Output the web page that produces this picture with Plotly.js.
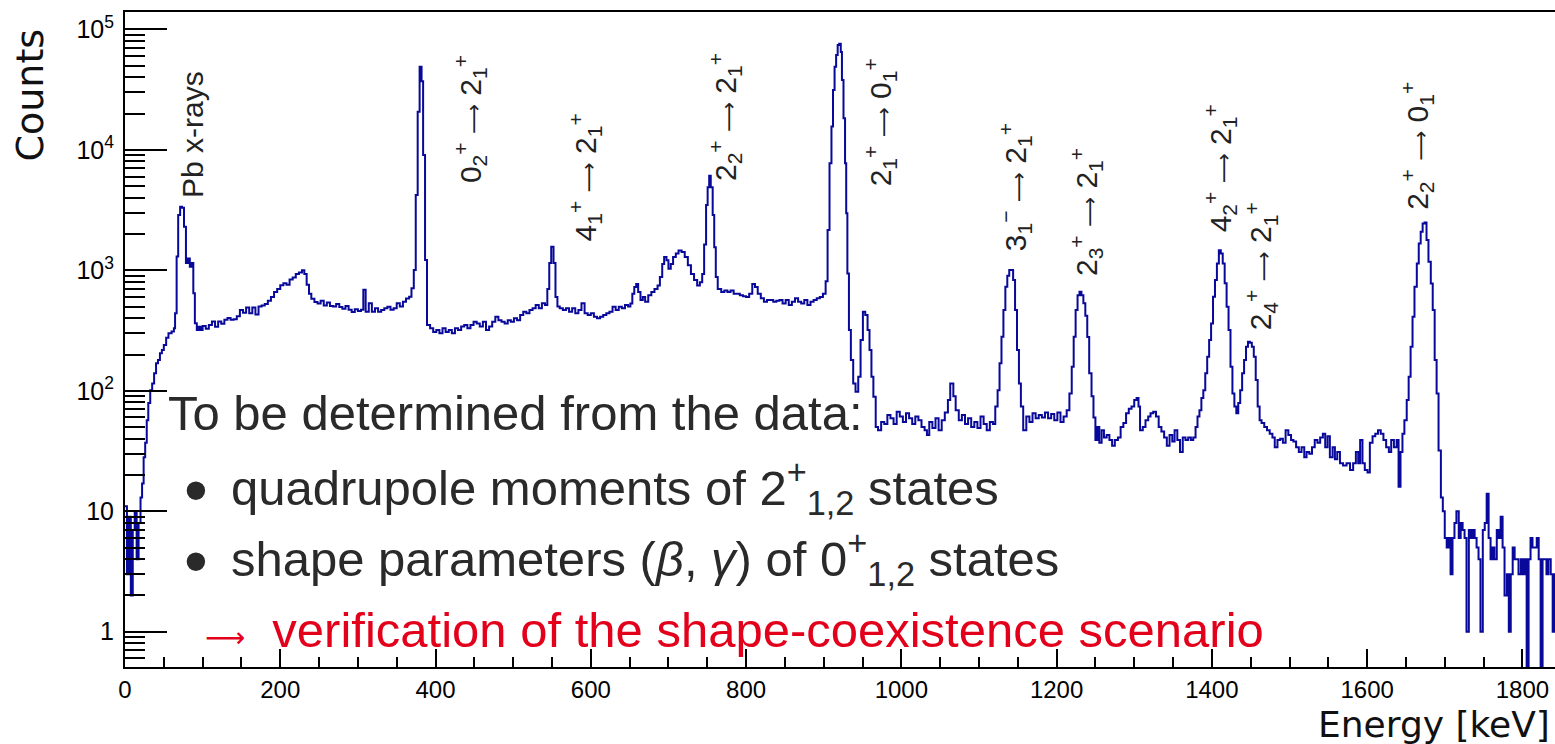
<!DOCTYPE html>
<html>
<head>
<meta charset="utf-8">
<script src="https://cdn.plot.ly/plotly-3.0.1.min.js"></script>
<style>
  html, body { margin: 0; padding: 0; background: #ffffff; }
  #chart { width: 1555px; height: 744px; }
</style>
</head>
<body>
<div id="chart"></div>
<script>
// ---------------- data ----------------
// left edge of each histogram step [keV]
const energyKeV = [
  0, 2.5, 5, 7.5, 10, 12.5, 15, 17.5, 20, 22, 24, 26, 28, 30, 32.5, 35, 37.5, 40, 42.5, 45, 47.5,
  50, 53, 56, 60, 63, 64.5, 66.5, 68.5, 71, 73.5, 76, 78.5, 81, 83.5, 86, 88, 90, 92.5, 95, 97.5,
  100, 104, 108, 112, 116, 120, 124, 128, 132, 136, 140, 144, 148, 152, 156, 160, 164, 168, 172, 176,
  180, 184, 188, 192, 196, 200, 204, 208, 212, 216, 220, 224, 228, 231, 234, 237, 240, 244, 248, 252,
  256, 260, 264, 268, 272, 276, 280, 284, 288, 292, 296, 300, 304, 307, 310, 314, 318, 322, 326, 330,
  334, 338, 342, 346, 350, 354, 358, 362, 366, 369, 372, 374.5, 377, 379.5, 382, 384, 386.5, 389, 393,
  397, 401, 405, 409, 413, 417, 421, 425, 429, 433, 437, 441, 445, 449, 453, 457, 461, 465, 469, 473,
  477, 481, 485, 489, 493, 497, 501, 505, 509, 513, 517, 521, 525, 529, 533, 537, 541, 544, 546.5, 549,
  552, 554.5, 557, 560, 564, 568, 572, 576, 580, 584, 588, 592, 596, 600, 604, 608, 612, 616, 620, 624,
  628, 632, 636, 640, 644, 648, 651, 653.5, 656, 658.5, 661, 664, 667, 670, 674, 678, 682, 686, 689, 692,
  694.5, 697.5, 700, 703, 706, 709.5, 713, 717, 721, 725, 729, 733, 737, 740.5, 743.5, 746, 748.5, 750.5,
  752.5, 754.5, 757, 759, 761, 763.5, 768, 772, 776, 780, 784, 788, 792, 796, 800, 804, 808, 811.5, 815,
  819, 823, 827, 831, 835, 839, 843, 847, 851, 855, 859, 863, 867, 871, 875, 879, 883, 887, 891, 895,
  899, 902.5, 905, 907.5, 910, 912, 914, 916, 918, 920, 922, 923.5, 925.5, 927.5, 929, 930.5, 932.5, 935,
  938, 941, 944.5, 947.5, 950.5, 953.5, 956.5, 959, 961.5, 964, 967, 970, 974, 978, 982, 986, 990, 994,
  998, 1002, 1006, 1010, 1014, 1018, 1022, 1026, 1030, 1033, 1036, 1040, 1044, 1048, 1052, 1056, 1060,
  1063, 1067, 1070, 1074, 1078, 1082, 1086, 1090, 1094, 1098, 1102, 1106, 1110, 1114, 1118, 1121, 1124,
  1126.5, 1129, 1131.5, 1134, 1136.5, 1139, 1141.5, 1144, 1146.5, 1149, 1151.5, 1154, 1157, 1161, 1165,
  1169, 1173, 1177, 1181, 1185, 1189, 1193, 1197, 1201, 1205, 1209, 1213, 1216.5, 1219.5, 1222, 1224.5,
  1227, 1229.5, 1232, 1234.5, 1237, 1239.5, 1242, 1245, 1247.5, 1250, 1252.5, 1255, 1258, 1261, 1264.5,
  1268, 1271.5, 1275, 1279, 1282.5, 1286, 1289.5, 1293, 1296.5, 1300, 1303, 1305.5, 1307.5, 1311, 1314.5,
  1318, 1321, 1324.5, 1328, 1331.5, 1335, 1338.5, 1342, 1345.5, 1349, 1352, 1355.5, 1359, 1362.5, 1366,
  1369.5, 1373, 1376, 1379, 1381.5, 1384, 1386.5, 1389, 1391.5, 1394, 1396.5, 1399, 1401.5, 1404, 1406.5,
  1409, 1411.5, 1414, 1416.5, 1419, 1421.5, 1424, 1426.5, 1429, 1431.5, 1434, 1436.5, 1439, 1441.5, 1444,
  1446.5, 1449, 1451.5, 1454, 1456.5, 1459, 1461.5, 1464, 1467.5, 1471, 1474.5, 1478, 1481, 1484.5, 1488,
  1491.5, 1495, 1498.5, 1502, 1505, 1508.5, 1512, 1515.5, 1519, 1522, 1525.5, 1529, 1532.5, 1536, 1539.5,
  1543, 1546, 1549, 1552, 1555.5, 1558.5, 1561.5, 1565, 1569, 1573.5, 1578, 1582, 1585.5, 1588.5, 1591,
  1594, 1597, 1600.5, 1603.5, 1607, 1610.5, 1614, 1617.5, 1621, 1624.5, 1628, 1631, 1634.5, 1638, 1640.5,
  1643, 1645.5, 1648, 1651, 1653.5, 1656, 1658.5, 1661, 1664, 1666.5, 1669, 1671.5, 1674, 1676.5, 1679,
  1682, 1684.5, 1687, 1689.5, 1692, 1695, 1697.5, 1700, 1702.5, 1705, 1707.5, 1710, 1712.5, 1715, 1718,
  1720.5, 1723, 1725.5, 1728, 1731, 1733.5, 1736, 1738.5, 1741, 1743.5, 1746, 1749, 1751.5, 1754, 1756.5,
  1759, 1761.5, 1764, 1767, 1769.5, 1772, 1774.5, 1777, 1780, 1782.5, 1785, 1787.5, 1790, 1792.5, 1795,
  1798, 1800.5, 1803, 1805.5, 1808, 1810.5, 1813, 1816, 1818.5, 1821, 1823.5, 1826, 1828.5, 1831, 1833.5,
  1836.5, 1839, 1841.5
];
// counts in each step
const counts = [
  11, 3, 9, 2, 7, 10, 4, 8, 13, 17, 28, 37, 57, 79, 101, 115, 140, 169, 180, 205, 218,
  240, 275, 300, 310, 330, 440, 1300, 2880, 3370, 3300, 2300, 1150, 1250, 1070, 1150, 644, 363, 319, 340, 320,
  345, 327, 352, 375, 340, 375, 360, 388, 401, 388, 392, 415, 468, 444, 490, 440, 490, 430, 500, 510,
  525, 560, 600, 660, 700, 750, 780, 760, 840, 870, 930, 960, 1000, 930, 760, 640, 580, 545, 530, 560,
  510, 540, 505, 500, 525, 495, 480, 505, 470, 450, 475, 460, 470, 690, 453, 532, 453, 483, 453, 468,
  483, 498, 470, 483, 532, 500, 548, 583, 602, 709, 1005, 4220, 20700, 49000, 37000, 9060, 1217, 352, 330,
  308, 319, 300, 330, 308, 319, 300, 330, 319, 341, 352, 330, 352, 374, 362, 341, 374, 319, 341, 374,
  412, 385, 374, 362, 385, 374, 400, 385, 425, 453, 440, 468, 483, 515, 483, 532, 515, 700, 1150, 1570,
  1150, 600, 500, 483, 468, 483, 453, 483, 440, 468, 532, 440, 425, 440, 412, 400, 412, 425, 439, 453,
  499, 469, 499, 483, 514, 500, 530, 640, 725, 770, 660, 566, 600, 547, 620, 660, 700, 746, 878, 1130,
  1290, 1210, 1030, 1130, 1290, 1380, 1460, 1420, 1290, 1100, 930, 830, 746, 795, 930, 1640, 3480, 4900,
  6100, 4900, 2880, 1550, 878, 700, 660, 680, 660, 680, 640, 640, 620, 610, 600, 640, 770, 725, 640,
  585, 547, 566, 566, 547, 560, 566, 530, 566, 514, 547, 585, 547, 530, 566, 514, 547, 566, 585, 600,
  640, 810, 2160, 7730, 15600, 31400, 49000, 61200, 74100, 76000, 65000, 38000, 18300, 7730, 2970, 942, 319, 180,
  115, 98, 131, 264, 453, 425, 319, 218, 131, 89, 50, 47, 55, 53, 63, 59, 53, 67,
  61, 55, 65, 59, 53, 61, 57, 50, 47, 43, 55, 49, 59, 47, 57, 66, 84,
  115, 90, 69, 57, 63, 53, 59, 50, 55, 49, 61, 53, 47, 55, 53, 74, 101,
  169, 281, 468, 731, 900, 1005, 1005, 830, 468, 218, 115, 74, 47, 61, 55,
  65, 59, 63, 60, 66, 59, 64, 57, 66, 55, 61, 69, 95, 158, 281, 468,
  622, 662, 620, 532, 420, 280, 140, 90, 60, 39, 50, 37, 47, 41, 43,
  39, 35, 39, 41, 50, 54, 65, 71, 74, 84, 87, 74, 47, 50, 57,
  61, 65, 67, 61, 50, 46, 41, 35, 43, 38, 47, 39, 31, 41, 39,
  41, 39, 41, 50, 61, 69, 87, 101, 140, 192, 264, 362, 604, 830, 1140,
  1470, 1380, 1140, 780, 499, 319, 158, 95, 74, 65, 79, 101, 140, 180, 232,
  255, 250, 232, 192, 123, 74, 57, 54, 50, 47, 44, 41, 34, 39, 40,
  37, 47, 43, 39, 38, 34, 31, 34, 28, 31, 30, 34, 39, 37, 41,
  44, 34, 42, 28, 34, 27, 31, 25, 24, 25, 22, 25, 31, 25, 39,
  25, 22, 21, 37, 42, 44, 47, 44, 39, 34, 31, 39, 34, 39, 16,
  31, 44, 57, 84, 131, 232, 412, 731, 1140, 1670, 2090, 2450, 2490, 1780, 1180,
  778, 468, 180, 95, 32, 13, 10, 6, 5, 6, 3, 6, 8, 10, 6,
  8, 7, 6, 1, 7, 6, 7, 6, 5, 4, 1, 7, 8, 14, 6,
  4, 5, 4, 7, 6, 9, 5, 2, 3, 1, 3, 5, 4, 4, 3,
  4, 3, 4, 0, 4, 6, 5, 5, 6, 4, 0, 4, 4, 3, 4,
  3, 1, 3
];
const histUpperEdge = 1845;   // upper edge of the last bin [keV]

// tick labels
const xTickValues = [0, 200, 400, 600, 800, 1000, 1200, 1400, 1600, 1800];
const yTickValues = [1, 10, 100, 1000, 10000, 100000];
const yTickLabels = ['1', '10', '10<sup>2</sup>', '10<sup>3</sup>', '10<sup>4</sup>', '10<sup>5</sup>'];
const yMinorTickValues = [0.6, 0.7, 0.8, 0.9,
  2, 3, 4, 5, 6, 7, 8, 9, 20, 30, 40, 50, 60, 70, 80, 90,
  200, 300, 400, 500, 600, 700, 800, 900, 2000, 3000, 4000, 5000, 6000, 7000, 8000, 9000,
  20000, 30000, 40000, 50000, 60000, 70000, 80000, 90000];

// peak labels
const ARROW = '<span style="font-family:DejaVu Sans;font-size:21px">⟶</span>';
const peakLabels = [
  'Pb x-rays',
  '0<sub>2</sub><sup>+</sup> ' + ARROW + ' 2<sub>1</sub><sup>+</sup>',
  '4<sub>1</sub><sup>+</sup> ' + ARROW + ' 2<sub>1</sub><sup>+</sup>',
  '2<sub>2</sub><sup>+</sup> ' + ARROW + ' 2<sub>1</sub><sup>+</sup>',
  '2<sub>1</sub><sup>+</sup> ' + ARROW + ' 0<sub>1</sub><sup>+</sup>',
  '3<sub>1</sub><sup>−</sup> ' + ARROW + ' 2<sub>1</sub><sup>+</sup>',
  '2<sub>3</sub><sup>+</sup> ' + ARROW + ' 2<sub>1</sub><sup>+</sup>',
  '4<sub>2</sub><sup>+</sup> ' + ARROW + ' 2<sub>1</sub><sup>+</sup>',
  '2<sub>4</sub><sup>+</sup> ' + ARROW + ' 2<sub>1</sub><sup>+</sup>',
  '2<sub>2</sub><sup>+</sup> ' + ARROW + ' 0<sub>1</sub><sup>+</sup>'
];
const peakLabelEnergy = [86.9, 444.6, 592.8, 773, 972.7, 1146.6, 1238, 1410, 1463.4, 1664.3];

// ---------------- drawing ----------------
const LOG_FLOOR = 0.1; // zero-count bins drawn below the axis floor, as ROOT does
const xs = energyKeV.concat([histUpperEdge]);
const ys = counts.concat([counts[counts.length - 1]]).map(c => (c > 0 ? c : LOG_FLOOR));

const trace = {
  type: 'scatter', mode: 'lines',
  x: xs, y: ys,
  line: { shape: 'hv', color: '#08089a', width: 2 },
  hoverinfo: 'skip', showlegend: false
};
// empty helper trace so that the minor-tick axis (y2) is drawn
const minorTickCarrier = {
  type: 'scatter', mode: 'lines', x: [], y: [], yaxis: 'y2',
  hoverinfo: 'skip', showlegend: false
};

const labelBottoms = [0.713, 0.736, 0.647, 0.739, 0.731, 0.632, 0.594, 0.66, 0.511, 0.695];
const SANS = 'Liberation Sans, Arial, Helvetica, sans-serif';
const annotations = peakLabels.map((t, i) => ({
  text: t, x: peakLabelEnergy[i], xref: 'x', y: labelBottoms[i], yref: 'paper',
  xanchor: 'center', yanchor: 'bottom', textangle: -90, showarrow: false,
  font: { family: SANS, size: 30, color: '#222222' }
}));

const boxFont = { family: SANS, size: 49, color: '#2a2a2a' };
const toPaperX = px => (px - 125) / 1430;
const toPaperY = py => (667 - py) / 655;
annotations.push(
  { text: 'To be determined from the data:', x: toPaperX(166), y: toPaperY(413), xref: 'paper', yref: 'paper',
    xanchor: 'left', yanchor: 'middle', showarrow: false, font: boxFont },
  { text: '•', x: toPaperX(196), y: toPaperY(489), xref: 'paper', yref: 'paper',
    xanchor: 'center', yanchor: 'middle', showarrow: false, font: { family: SANS, size: 68, color: '#2a2a2a' } },
  { text: 'quadrupole moments of 2<sup>+</sup><sub>1,2</sub> states', x: toPaperX(229), y: toPaperY(487), xref: 'paper', yref: 'paper',
    xanchor: 'left', yanchor: 'middle', showarrow: false, font: boxFont },
  { text: '•', x: toPaperX(196), y: toPaperY(560), xref: 'paper', yref: 'paper',
    xanchor: 'center', yanchor: 'middle', showarrow: false, font: { family: SANS, size: 68, color: '#2a2a2a' } },
  { text: 'shape parameters (<i>β</i>, <i>γ</i>) of 0<sup>+</sup><sub>1,2</sub> states', x: toPaperX(229), y: toPaperY(558), xref: 'paper', yref: 'paper',
    xanchor: 'left', yanchor: 'middle', showarrow: false, font: boxFont },
  { text: '<span style="font-family:DejaVu Sans;font-size:28px">⟶</span>  verification of the shape-coexistence scenario', x: toPaperX(203), y: toPaperY(630), xref: 'paper', yref: 'paper',
    xanchor: 'left', yanchor: 'middle', showarrow: false, font: { family: SANS, size: 49, color: '#e3001b' } },
  { text: 'Counts', x: toPaperX(29), y: toPaperY(27), xref: 'paper', yref: 'paper',
    xanchor: 'center', yanchor: 'top', textangle: -90, showarrow: false,
    font: { family: 'DejaVu Sans, sans-serif', size: 38, color: '#111111' } },
  { text: 'Energy [keV]', x: toPaperX(1552), y: toPaperY(747), xref: 'paper', yref: 'paper',
    xanchor: 'right', yanchor: 'bottom', showarrow: false,
    font: { family: 'DejaVu Sans, sans-serif', size: 36, color: '#111111' } }
);

const layout = {
  width: 1555, height: 744,
  margin: { l: 125, r: 0, t: 12, b: 77, pad: 0 },
  paper_bgcolor: '#ffffff', plot_bgcolor: '#ffffff',
  showlegend: false,
  xaxis: {
    range: [0, 1842], autorange: false,
    tickvals: xTickValues, ticktext: xTickValues.map(String),
    ticks: 'inside', ticklen: 18, tickwidth: 2, tickcolor: '#000',
    showline: true, linewidth: 2, linecolor: '#000', mirror: true,
    showgrid: false, zeroline: false,
    tickfont: { family: SANS, size: 24, color: '#000' },
    ticklabelstandoff: 0,
    minor: { dtick: 50, tick0: 0, ticks: 'inside', ticklen: 10, tickwidth: 2, tickcolor: '#000', showgrid: false }
  },
  yaxis: {
    type: 'log', range: [-0.293, 5.144], autorange: false,
    tickvals: yTickValues, ticktext: yTickLabels,
    ticks: 'inside', ticklen: 42, tickwidth: 2, tickcolor: '#000',
    showline: true, linewidth: 2, linecolor: '#000', mirror: false,
    showgrid: false, zeroline: false,
    tickfont: { family: SANS, size: 25, color: '#000' },
    ticklabelstandoff: 4
  },
  yaxis2: {
    type: 'log', range: [-0.293, 5.144], autorange: false,
    overlaying: 'y', anchor: 'x', side: 'left',
    tickvals: yMinorTickValues, showticklabels: false,
    ticks: 'inside', ticklen: 20, tickwidth: 2, tickcolor: '#000',
    showline: false, showgrid: false, zeroline: false
  },
  annotations: annotations
};

Plotly.newPlot('chart', [trace, minorTickCarrier], layout, { staticPlot: true, displayModeBar: false });
</script>
</body>
</html>
